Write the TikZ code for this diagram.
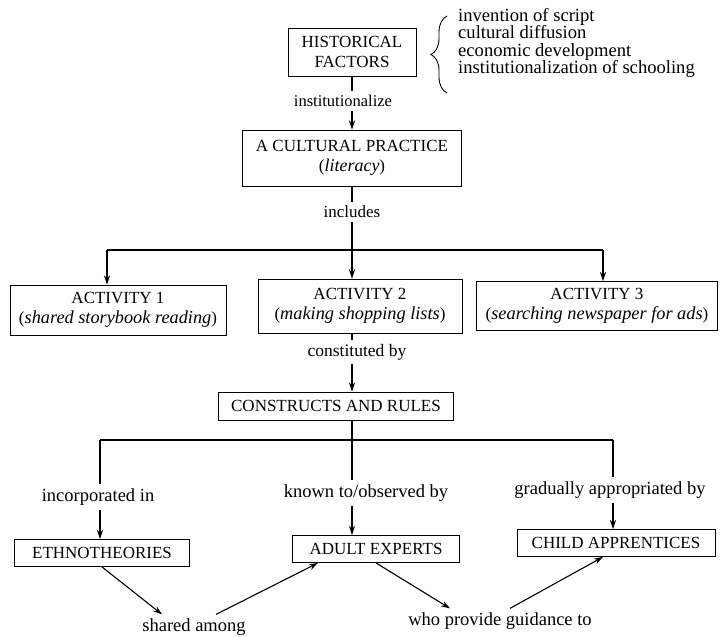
\documentclass[tikz,border=0pt]{standalone}
\usepackage{fontspec}
\setmainfont{Liberation Serif}
\usetikzlibrary{arrows.meta,decorations.pathreplacing}
\begin{document}
\begin{tikzpicture}[x=1pt,y=-1pt,
  box/.style={draw,line width=0.9pt,align=center,inner sep=0pt,font=\fontsize{17}{20}\selectfont},
  lbl/.style={inner sep=4pt,font=\fontsize{18.5}{20}\selectfont},
  stem/.style={line width=1.4pt},
  tip/.style={-{Stealth[length=9pt,width=6pt]}},
  slant/.style={line width=1.1pt,-{Stealth[length=9pt,width=6pt]}}]
\useasboundingbox (0,0) rectangle (724,637);
\node[box,minimum width=128pt,minimum height=48pt] (hist) at (352,52) {HISTORICAL\\FACTORS};
\node[anchor=west,align=left,inner sep=3pt,font=\fontsize{18.6}{17.2}\selectfont] (lst) at (455,43)
  {invention of script\\cultural diffusion\\economic development\\institutionalization of schooling};
\coordinate (brace bot) at (447,93);
\coordinate (brace top) at (447,16);
\draw[line width=0.9pt,decorate,decoration={brace,amplitude=16pt}] (brace bot) -- (brace top);
\node[lbl,font=\fontsize{16.5}{19}\selectfont] (inst) at (343,101) {institutionalize};
\node[box,minimum width=219pt,minimum height=56pt] (practice) at (352,158) {A CULTURAL PRACTICE\\(\textit{\fontsize{18}{20}\selectfont literacy})};
\node[lbl,font=\fontsize{17}{19}\selectfont] (incl) at (352,212) {includes};
\coordinate (bar1) at (107,250);
\coordinate (bar2) at (352,250);
\coordinate (bar3) at (603,250);
\node[box,minimum width=216pt,minimum height=50pt] (act1) at (118,310) {ACTIVITY 1\\(\textit{\fontsize{18.3}{20}\selectfont shared storybook reading})};
\node[box,minimum width=204pt,minimum height=54pt] (act2) at (360,306) {ACTIVITY 2\\(\textit{\fontsize{18.3}{20}\selectfont making shopping lists})};
\node[box,minimum width=241pt,minimum height=49pt] (act3) at (597,306) {ACTIVITY 3\\(\textit{\fontsize{18.3}{20}\selectfont searching newspaper for ads})};
\node[lbl,font=\fontsize{17.5}{19}\selectfont] (const) at (357,352) {constituted by};
\node[box,minimum width=235pt,minimum height=28pt] (rules) at (336,406) {CONSTRUCTS AND RULES};
\coordinate (low1) at (100,440);
\coordinate (low2) at (352,440);
\coordinate (low3) at (613,440);
\node[lbl] (incorp) at (98,497) {incorporated in};
\node[lbl] (known) at (366,493) {known to/observed by};
\node[lbl] (grad) at (610,490) {gradually appropriated by};
\node[box,minimum width=175pt,minimum height=27pt] (ethno) at (102,553) {ETHNOTHEORIES};
\node[box,minimum width=167pt,minimum height=27pt] (adult) at (376,549) {ADULT EXPERTS};
\node[box,minimum width=198pt,minimum height=27pt] (child) at (616,543) {CHILD APPRENTICES};
\node[lbl] (shared) at (194,627) {shared among};
\node[lbl] (guide) at (500,621) {who provide guidance to};
% top part
\draw[stem] (hist.south) -- (hist.south |- inst.north);
\draw[stem,tip] (hist.south |- inst.south) -- (practice.north);
\draw[stem] (practice.south) -- (incl.north);
\draw[stem] (incl.south) -- (bar2);
\draw[stem] (bar1) -- (bar3);
\draw[stem,tip] (bar1) -- (bar1 |- act1.north);
\draw[stem,tip] (bar2) -- (bar2 |- act2.north);
\draw[stem,tip] (bar3) -- (bar3 |- act3.north);
\draw[stem] (bar2 |- act2.south) -- (bar2 |- const.north);
\draw[stem,tip] (bar2 |- const.south) -- (bar2 |- rules.north);
% lower part
\draw[stem] (rules.south -| low2) -- (known.north -| low2);
\draw[stem] (low1) -- (low3);
\draw[stem] (low1) -- (low1 |- incorp.north);
\draw[stem] (low3) -- (low3 |- grad.north);
\draw[stem,tip] (low1 |- incorp.south) -- (low1 |- ethno.north);
\draw[stem,tip] (low2 |- known.south) -- (low2 |- adult.north);
\draw[stem,tip] (low3 |- grad.south) -- (low3 |- child.north);
\draw[slant] (ethno.south) -- ([xshift=-32pt]shared.north);
\draw[slant] ([xshift=22pt]shared.north) -- ([xshift=-58pt]adult.south);
\draw[slant] (adult.south) -- ([xshift=-50pt]guide.north);
\draw[slant] ([xshift=10pt]guide.north) -- ([xshift=-13pt]child.south);
\end{tikzpicture}
\end{document}
